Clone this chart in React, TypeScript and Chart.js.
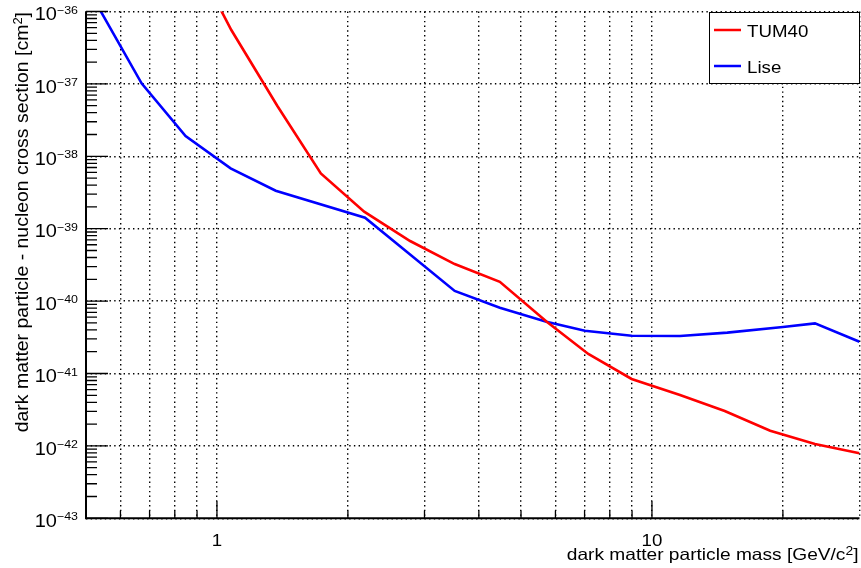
import React, { useEffect, useRef } from "react";
import { Chart, registerables } from "chart.js";

Chart.register(...registerables);

// ---- data ----
const massTUM40 = [1.0, 1.079, 1.377, 1.733, 2.18, 2.78, 3.52, 4.47, 5.73, 7.14, 8.98, 11.6, 14.7, 18.7, 23.7, 30];
const sigmaTUM40 = [1.33e-36, 5.55e-37, 4.96e-38, 5.8e-39, 1.72e-39, 6.76e-40, 3.25e-40, 1.85e-40, 5.19e-41, 1.86e-41, 8.4e-42, 5.05e-42, 3.03e-42, 1.62e-42, 1.06e-42, 7.9e-43];

const massLise = [0.5, 0.671, 0.847, 1.075, 1.365, 2.19, 3.52, 4.47, 5.72, 7.01, 8.98, 11.6, 14.9, 20, 23.7, 30];
const sigmaLise = [2.3e-36, 1.02e-37, 1.9e-38, 6.8e-39, 3.35e-39, 1.42e-39, 1.38e-40, 8.1e-41, 5.2e-41, 3.9e-41, 3.33e-41, 3.3e-41, 3.67e-41, 4.39e-41, 4.93e-41, 2.75e-41];

const seriesNames = ["TUM40", "Lise"];
const seriesColors = ["#ff0000", "#0000ff"];

const xMin = 0.5;
const xMax = 30;
const xGridValues = [0.5, 0.6, 0.7, 0.8, 0.9, 1, 2, 3, 4, 5, 6, 7, 8, 9, 10, 20, 30];
const xLabelValues = [1, 10];
const xLabelTexts = ["1", "10"];
const yDecadeExponents = [-43, -42, -41, -40, -39, -38, -37, -36];
const yMinorMultipliers = [2, 3, 4, 5, 6, 7, 8, 9];

const xTitleParts = [
  { t: "dark matter particle mass [GeV/c" },
  { t: "2", sup: true },
  { t: "]" },
];
const yTitleParts = [
  { t: "dark matter particle - nucleon cross section [cm" },
  { t: "2", sup: true },
  { t: "]" },
];

const FONT = '"Liberation Sans", Arial, Helvetica, sans-serif';

type Seg = { t: string; sup?: boolean };
type RichOpts = {
  size: number;
  supSize: number;
  supRise: number;
  align: "left" | "right" | "center";
  stretch: number;
  rotate?: number;
};

function drawRich(ctx: CanvasRenderingContext2D, segs: Seg[], x: number, y: number, o: RichOpts) {
  ctx.save();
  ctx.translate(x, y);
  if (o.rotate) ctx.rotate(o.rotate);
  ctx.scale(o.stretch, 1);
  ctx.textAlign = "left";
  ctx.textBaseline = "alphabetic";
  const widths = segs.map((s) => {
    ctx.font = `${s.sup ? o.supSize : o.size}px ${FONT}`;
    return ctx.measureText(s.t).width;
  });
  const total = widths.reduce((a, b) => a + b, 0);
  let cx = o.align === "left" ? 0 : o.align === "right" ? -total : -total / 2;
  segs.forEach((s, i) => {
    ctx.font = `${s.sup ? o.supSize : o.size}px ${FONT}`;
    ctx.fillText(s.t, cx, s.sup ? -o.supRise : 0);
    cx += widths[i];
  });
  ctx.restore();
}

const rootStylePlugin = {
  id: "rootStyle",
  afterDraw(chart: any) {
    const ctx: CanvasRenderingContext2D = chart.ctx;
    const xs = chart.scales.x;
    const ys = chart.scales.y;
    const { left, right, top, bottom } = chart.chartArea;
    ctx.save();
    ctx.strokeStyle = "#000";
    ctx.fillStyle = "#000";

    // tick marks (drawn inside the frame, ROOT style)
    ctx.lineWidth = 1.3;
    ctx.beginPath();
    for (const v of xGridValues) {
      if (v <= xMin || v >= xMax) continue;
      const px = xs.getPixelForValue(v);
      const len = xLabelValues.includes(v) ? 17 : 7.7;
      ctx.moveTo(px, bottom);
      ctx.lineTo(px, bottom - len);
    }
    const lastExp = yDecadeExponents[yDecadeExponents.length - 1];
    for (const e of yDecadeExponents) {
      const base = Math.pow(10, e);
      const py = ys.getPixelForValue(base);
      ctx.moveTo(left, py);
      ctx.lineTo(left + 22, py);
      if (e < lastExp) {
        for (const m of yMinorMultipliers) {
          const p = ys.getPixelForValue(m * base);
          ctx.moveTo(left, p);
          ctx.lineTo(left + 11, p);
        }
      }
    }
    ctx.stroke();

    // axis lines
    ctx.lineWidth = 2;
    ctx.beginPath();
    ctx.moveTo(left, top);
    ctx.lineTo(left, bottom + 1);
    ctx.moveTo(left - 1, bottom);
    ctx.lineTo(right, bottom);
    ctx.stroke();

    // y tick labels 10^{e}
    for (const e of yDecadeExponents) {
      const py = ys.getPixelForValue(Math.pow(10, e));
      drawRich(
        ctx,
        [{ t: "10" }, { t: "\u2212" + Math.abs(e), sup: true }],
        78,
        py + 8.7,
        { size: 18.5, supSize: 11.5, supRise: 6.7, align: "right", stretch: 1.08 }
      );
    }

    // x tick labels
    xLabelValues.forEach((v, i) => {
      const px = xs.getPixelForValue(v);
      drawRich(ctx, [{ t: xLabelTexts[i] }], px, 545.7, {
        size: 17,
        supSize: 12,
        supRise: 6,
        align: "center",
        stretch: 1.1,
      });
    });

    // axis titles
    drawRich(ctx, xTitleParts, right - 1, 559.5, {
      size: 16.5,
      supSize: 12,
      supRise: 4.5,
      align: "right",
      stretch: 1.16,
    });
    drawRich(ctx, yTitleParts, 27.9, 12, {
      size: 18,
      supSize: 12,
      supRise: 6,
      align: "right",
      stretch: 1.081,
      rotate: -Math.PI / 2,
    });

    // legend box
    const lx = 709.5, ly = 12.5, lw = 150, lh = 71;
    ctx.fillStyle = "#fff";
    ctx.fillRect(lx, ly, lw, lh);
    ctx.lineWidth = 1;
    ctx.strokeStyle = "#000";
    ctx.strokeRect(lx, ly, lw, lh);
    const rows = [30, 66];
    chart.data.datasets.forEach((ds: any, i: number) => {
      const yy = rows[i];
      ctx.strokeStyle = ds.borderColor;
      ctx.lineWidth = 2.5;
      ctx.beginPath();
      ctx.moveTo(714, yy);
      ctx.lineTo(741, yy);
      ctx.stroke();
      ctx.fillStyle = "#000";
      drawRich(ctx, [{ t: ds.label }], 747, yy + 7, {
        size: 17,
        supSize: 12,
        supRise: 6,
        align: "left",
        stretch: 1.1,
      });
    });

    ctx.restore();
  },
};

export default function App() {
  const canvasRef = useRef<HTMLCanvasElement | null>(null);

  useEffect(() => {
    const canvas = canvasRef.current;
    if (!canvas) return;
    const datasets = [
      { mass: massTUM40, sigma: sigmaTUM40 },
      { mass: massLise, sigma: sigmaLise },
    ].map((s, i) => ({
      label: seriesNames[i],
      data: s.mass.map((m, j) => ({ x: m, y: s.sigma[j] })),
      borderColor: seriesColors[i],
      backgroundColor: seriesColors[i],
      borderWidth: 2.6,
      pointRadius: 0,
      pointHoverRadius: 0,
      tension: 0,
      fill: false,
      clip: { left: 0, top: 0, right: 0, bottom: 0 },
    }));

    const gridOpts = { display: true, color: "#000", lineWidth: 1.4, drawTicks: false };
    const borderOpts = { display: false, dash: [1.4, 3.3] };

    const chart = new Chart(canvas, {
      type: "line",
      data: { datasets },
      options: {
        animation: false,
        responsive: false,
        events: [],
        layout: { padding: { top: 11.5, right: 1.5, left: 0, bottom: 0 } },
        plugins: { legend: { display: false }, tooltip: { enabled: false }, title: { display: false } },
        scales: {
          x: {
            type: "logarithmic",
            min: xMin,
            max: xMax,
            afterBuildTicks: (s: any) => {
              s.ticks = xGridValues.map((v) => ({ value: v }));
            },
            afterFit: (s: any) => {
              s.height = 49.7;
            },
            ticks: { display: false },
            grid: gridOpts,
            border: borderOpts,
          },
          y: {
            type: "logarithmic",
            min: Math.pow(10, yDecadeExponents[0]),
            max: Math.pow(10, yDecadeExponents[yDecadeExponents.length - 1]),
            afterBuildTicks: (s: any) => {
              s.ticks = yDecadeExponents.map((e) => ({ value: Math.pow(10, e) }));
            },
            afterFit: (s: any) => {
              s.width = 86;
            },
            ticks: { display: false },
            grid: gridOpts,
            border: borderOpts,
          },
        },
      } as any,
      plugins: [rootStylePlugin],
    });
    return () => chart.destroy();
  }, []);

  return (
    <div style={{ position: "fixed", left: 0, top: 0, width: 861, height: 568, background: "#fff" }}>
      <canvas ref={canvasRef} width={861} height={568} style={{ display: "block", width: 861, height: 568 }} />
    </div>
  );
}
